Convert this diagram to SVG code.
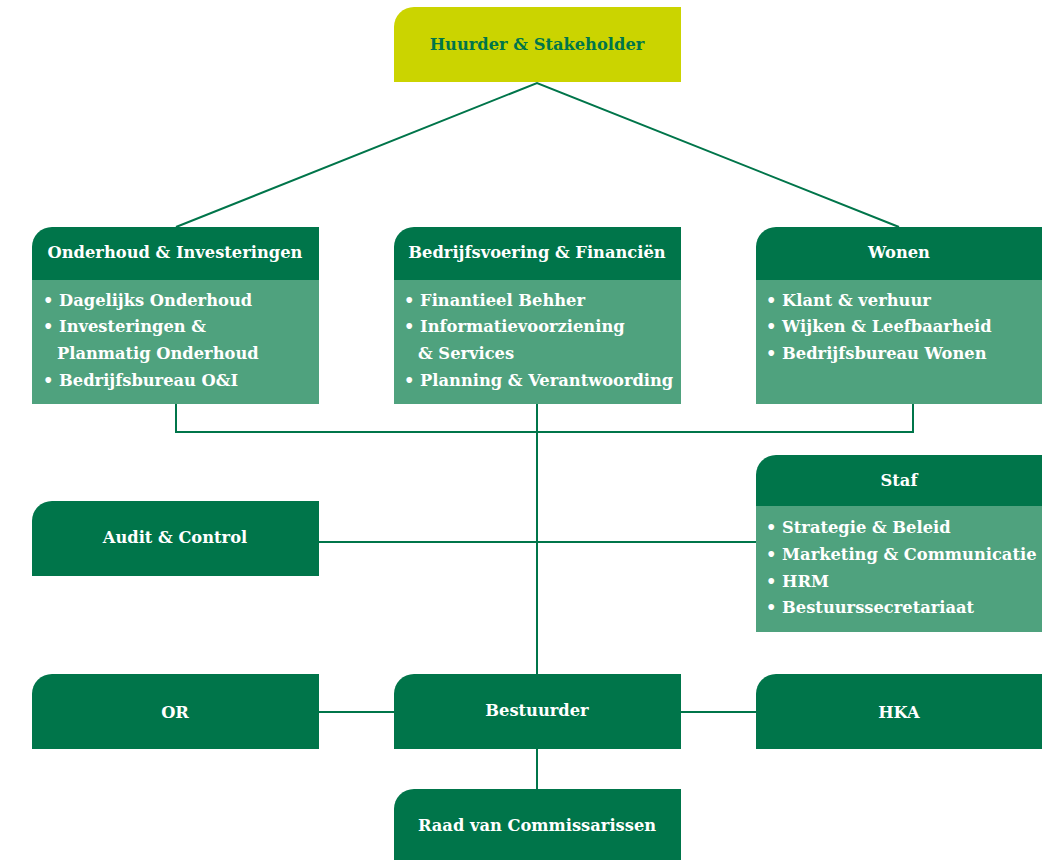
<svg xmlns="http://www.w3.org/2000/svg" width="1042" height="860" viewBox="0 0 1042 860">
<style>
.hd{fill:#00754a}
.bd{fill:#4fa27e}
.t{font-family:"DejaVu Serif","Liberation Serif",serif;font-weight:bold;font-size:16.3px;fill:#fff}
.c{text-anchor:middle}
.ln{stroke:#00754a;stroke-width:2;fill:none}
</style>
<g id="connectors">
<polyline class="ln" points="176,227 537,83 899,227"/>
<polyline class="ln" points="176,404 176,432 913,432 913,404"/>
<line class="ln" x1="537" y1="404" x2="537" y2="674"/>
<line class="ln" x1="319" y1="542" x2="756" y2="542"/>
<line class="ln" x1="319" y1="712" x2="756" y2="712"/>
<line class="ln" x1="537" y1="749" x2="537" y2="789"/>
</g>
<g id="huurder">
<path d="M414,7 H681 V82 H394 V27 A20,20 0 0 1 414,7 Z" fill="#cbd400"/>
<text class="t c" x="537" y="50" style="fill:#00754a">Huurder &amp; Stakeholder</text>
</g>
<g id="oi">
<path d="M52,227 H319 V280 H32 V247 A20,20 0 0 1 52,227 Z" class="hd"/>
<rect x="32" y="280" width="287" height="124" class="bd"/>
<text class="t c" x="175" y="258">Onderhoud &amp; Investeringen</text>
<text class="t" x="43" y="306">• Dagelijks Onderhoud</text>
<text class="t" x="43" y="332">• Investeringen &amp;</text>
<text class="t" x="57" y="359">Planmatig Onderhoud</text>
<text class="t" x="43" y="386">• Bedrijfsbureau O&amp;I</text>
</g>
<g id="bf">
<path d="M414,227 H681 V280 H394 V247 A20,20 0 0 1 414,227 Z" class="hd"/>
<rect x="394" y="280" width="287" height="124" class="bd"/>
<text class="t c" x="537" y="258">Bedrijfsvoering &amp; Financiën</text>
<text class="t" x="404" y="306">• Finantieel Behher</text>
<text class="t" x="404" y="332">• Informatievoorziening</text>
<text class="t" x="418" y="359">&amp; Services</text>
<text class="t" x="404" y="386">• Planning &amp; Verantwoording</text>
</g>
<g id="wonen">
<path d="M776,227 H1042 V280 H756 V247 A20,20 0 0 1 776,227 Z" class="hd"/>
<rect x="756" y="280" width="286" height="124" class="bd"/>
<text class="t c" x="899" y="258">Wonen</text>
<text class="t" x="766" y="306">• Klant &amp; verhuur</text>
<text class="t" x="766" y="332">• Wijken &amp; Leefbaarheid</text>
<text class="t" x="766" y="359">• Bedrijfsbureau Wonen</text>
</g>
<g id="audit">
<path d="M52,501 H319 V576 H32 V521 A20,20 0 0 1 52,501 Z" class="hd"/>
<text class="t c" x="175" y="543">Audit &amp; Control</text>
</g>
<g id="staf">
<path d="M776,455 H1042 V506 H756 V475 A20,20 0 0 1 776,455 Z" class="hd"/>
<rect x="756" y="506" width="286" height="126" class="bd"/>
<text class="t c" x="899" y="486">Staf</text>
<text class="t" x="766" y="533">• Strategie &amp; Beleid</text>
<text class="t" x="766" y="560">• Marketing &amp; Communicatie</text>
<text class="t" x="766" y="587">• HRM</text>
<text class="t" x="766" y="613">• Bestuurssecretariaat</text>
</g>
<g id="or">
<path d="M52,674 H319 V749 H32 V694 A20,20 0 0 1 52,674 Z" class="hd"/>
<text class="t c" x="175" y="718">OR</text>
</g>
<g id="bestuurder">
<path d="M414,674 H681 V749 H394 V694 A20,20 0 0 1 414,674 Z" class="hd"/>
<text class="t c" x="537" y="716">Bestuurder</text>
</g>
<g id="hka">
<path d="M776,674 H1042 V749 H756 V694 A20,20 0 0 1 776,674 Z" class="hd"/>
<text class="t c" x="899" y="718">HKA</text>
</g>
<g id="raad">
<path d="M414,789 H681 V860 H394 V809 A20,20 0 0 1 414,789 Z" class="hd"/>
<text class="t c" x="537" y="831">Raad van Commissarissen</text>
</g>
</svg>
